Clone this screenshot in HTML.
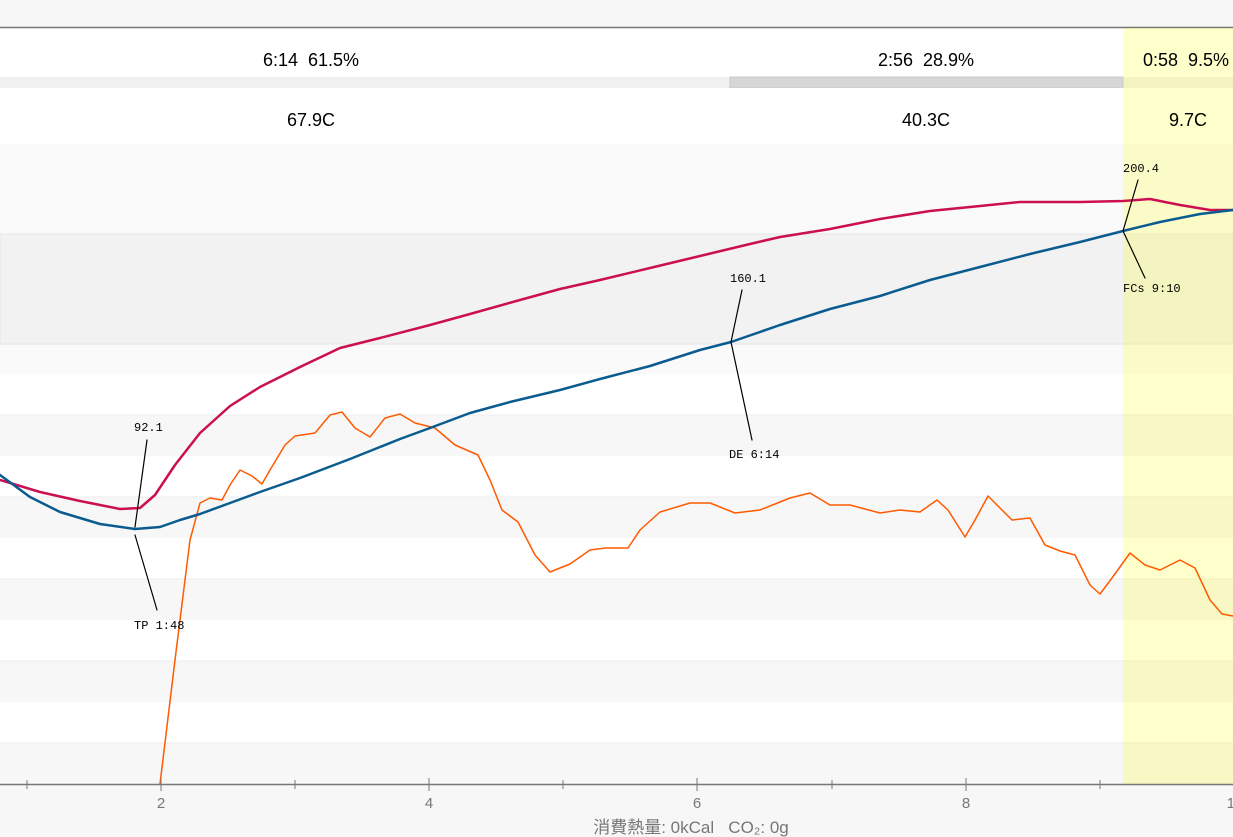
<!DOCTYPE html><html><head><style>body{margin:0;background:#fff}svg{display:block}</style></head><body>
<svg width="1233" height="837" xmlns="http://www.w3.org/2000/svg" font-family="Liberation Sans, sans-serif">
<rect width="1233" height="837" fill="#f7f7f7"/>
<rect y="28" width="1233" height="49" fill="#fff"/>
<rect y="77" width="1233" height="11" fill="#f0f0f0"/>
<rect x="730" y="77" width="393" height="11" fill="#d6d6d6" stroke="#c8c8c8"/>
<rect y="88" width="1233" height="56" fill="#fff"/>
<rect y="144" width="1233" height="90" fill="#fafafa"/>
<rect y="234" width="1233" height="110" fill="#f2f2f2" stroke="#e6e6e6"/>
<rect y="345" width="1233" height="29" fill="#fafafa"/>
<g fill="#fff"><rect y="374" width="1233" height="41"/><rect y="456" width="1233" height="41"/><rect y="538" width="1233" height="41"/><rect y="620" width="1233" height="41"/><rect y="702" width="1233" height="41"/></g>
<g stroke="#ececec"><line x1="0" x2="1233" y1="415" y2="415"/><line x1="0" x2="1233" y1="497" y2="497"/><line x1="0" x2="1233" y1="579" y2="579"/><line x1="0" x2="1233" y1="661" y2="661"/><line x1="0" x2="1233" y1="743" y2="743"/></g>
<line x1="0" x2="1233" y1="27.5" y2="27.5" stroke="#777" stroke-width="1.5"/>
<rect x="1123" y="28" width="110" height="756" fill="#ffff00" fill-opacity="0.2"/>
<g font-size="18" text-anchor="middle" fill="#000">
<text x="311" y="66">6:14&#160;&#160;61.5%</text><text x="926" y="66">2:56&#160;&#160;28.9%</text><text x="1186" y="66">0:58&#160;&#160;9.5%</text>
<text x="311" y="126">67.9C</text><text x="926" y="126">40.3C</text><text x="1188" y="126">9.7C</text></g>
<g fill="none" stroke-linejoin="round" stroke-linecap="round">
<polyline stroke="#ff5a00" stroke-width="1.5" points="160,784 175,660 190,540 200,503 210,498 222,500 230,485 240,470 252,476 262,484 270,470 285,445 295,436 315,433 330,415 342,412 355,428 370,437 385,418 400,414 415,423 435,428 455,445 478,455 490,480 502,510 518,522 535,555 550,572 570,564 590,550 605,548 628,548 640,530 660,512 690,503 710,503 735,513 760,510 790,498 810,493 830,505 850,505 880,513 900,510 920,512 937,500 948,510 965,537 975,520 988,496 1000,508 1012,520 1030,518 1045,545 1060,551 1075,555 1090,585 1100,594 1112,578 1130,553 1145,565 1160,570 1180,560 1195,568 1210,600 1222,614 1233,616"/>
<polyline stroke="#cc0f50" stroke-width="2.5" points="0,480 40,492 80,501 120,509 140,508 155,495 175,465 200,433 230,406 260,387 300,367 340,348 380,338 430,325 470,314 520,300 560,289 600,280 650,268 700,256 750,244 780,237 830,229 880,219 930,211 980,206 1020,202 1080,202 1123,201 1150,199 1180,205 1210,210 1233,210"/>
<polyline stroke="#0a5c90" stroke-width="2.5" points="0,475 30,497 60,512 100,524 135,529 160,527 180,520 200,514 230,503 260,492 300,478 350,459 400,439 430,428 470,413 510,402 560,390 600,379 650,366 700,350 731,342 780,325 830,309 880,296 930,280 980,267 1030,254 1080,242 1123,231 1160,222 1200,214 1233,210"/>
<g stroke="#000" stroke-width="1.2"><polyline points="147,440 135,527"/><polyline points="135,535 157,610"/><polyline points="742,290 731,342 752,440"/><polyline points="1138,180 1123,231 1145,278"/></g>
</g>
<g font-family="Liberation Mono, monospace" font-size="12" fill="#000">
<text x="134" y="431">92.1</text><text x="134" y="629">TP 1:48</text>
<text x="730" y="282">160.1</text><text x="729" y="458">DE 6:14</text>
<text x="1123" y="172">200.4</text><text x="1123" y="292">FCs 9:10</text></g>
<line x1="0" x2="1233" y1="784.5" y2="784.5" stroke="#777" stroke-width="1.5"/>
<g stroke="#777"><line x1="27" x2="27" y1="780" y2="789"/><line x1="161" x2="161" y1="778" y2="791"/><line x1="295" x2="295" y1="780" y2="789"/><line x1="429" x2="429" y1="778" y2="791"/><line x1="563" x2="563" y1="780" y2="789"/><line x1="697" x2="697" y1="778" y2="791"/><line x1="832" x2="832" y1="780" y2="789"/><line x1="966" x2="966" y1="778" y2="791"/><line x1="1100" x2="1100" y1="780" y2="789"/></g>
<g font-size="15" fill="#777" text-anchor="middle"><text x="161" y="808">2</text><text x="429" y="808">4</text><text x="697" y="808">6</text><text x="966" y="808">8</text><text x="1235" y="808">10</text></g>
<text x="691" y="833" font-size="17" fill="#777" text-anchor="middle" font-family="Liberation Sans, Noto Sans CJK JP, sans-serif">消費熱量: 0kCal&#160;&#160;&#160;CO₂: 0g</text>
</svg></body></html>
